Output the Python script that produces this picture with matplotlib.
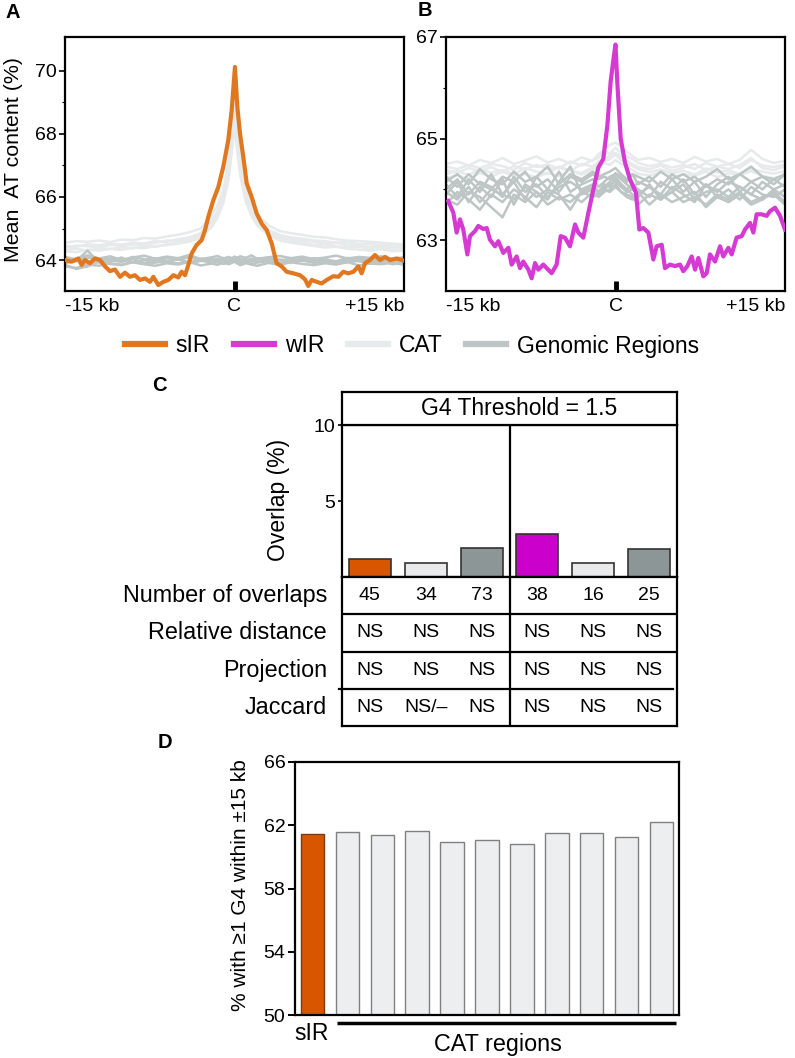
import matplotlib
matplotlib.use('Agg')
import matplotlib.pyplot as plt
from matplotlib.lines import Line2D
from matplotlib.ticker import FixedLocator

plt.rcParams['font.family'] = ['Liberation Sans', 'DejaVu Sans']

# ---------------- DATA ----------------
# Panel A: sIR mean AT content profile (kb from centre)
sIR_kb = [-15.0,-14.41,-13.82,-13.53,-13.23,-12.79,-12.35,-11.90,-11.46,-11.02,-10.58,-10.13,-9.69,-9.25,-8.81,-8.36,-7.92,-7.48,-7.18,-6.74,-6.30,-5.86,-5.41,-4.97,-4.68,-4.38,-4.09,-3.79,-3.35,-2.91,-2.61,-2.32,-1.87,-1.43,-0.99,-0.55,-0.25,0.04,0.25,0.49,0.78,1.08,1.52,1.96,2.40,2.85,3.29,3.73,4.17,4.62,5.21,5.80,6.24,6.53,6.83,7.27,7.71,8.16,8.75,9.19,9.63,10.07,10.52,10.96,11.25,11.55,11.99,12.43,12.88,13.32,13.76,14.35,15.0]
sIR_at = [64.0,63.95,64.05,63.85,64.0,63.9,64.05,64.0,63.8,63.65,63.7,63.47,63.6,63.47,63.52,63.37,63.42,63.31,63.47,63.21,63.31,63.37,63.52,63.45,63.63,63.52,63.84,64.21,64.48,64.63,64.95,65.37,65.9,66.32,66.96,67.8,68.75,70.12,68.86,68.0,67.27,66.43,66.0,65.48,65.16,64.95,64.53,63.9,63.8,63.63,63.58,63.52,63.39,63.18,63.37,63.31,63.26,63.37,63.49,63.47,63.63,63.58,63.63,63.8,63.58,63.9,64.0,64.16,64.0,64.1,64.0,64.05,63.98]

# Panel B: wIR profile
wIR_kb = [-14.8,-14.35,-14.06,-13.76,-13.47,-13.11,-12.88,-12.43,-12.14,-11.70,-11.40,-11.11,-10.66,-10.37,-9.93,-9.48,-9.19,-8.75,-8.45,-8.16,-7.71,-7.42,-7.12,-6.83,-6.39,-6.09,-5.65,-5.21,-4.85,-4.47,-4.03,-3.58,-3.29,-2.85,-2.40,-1.96,-1.52,-1.08,-0.72,-0.43,-0.13,0.0,0.16,0.46,0.84,1.28,1.81,2.11,2.46,2.91,3.35,3.64,4.09,4.38,4.82,5.27,5.71,6.00,6.36,6.74,7.04,7.33,7.77,8.07,8.36,8.81,9.25,9.54,9.99,10.28,10.72,11.17,11.46,11.90,12.20,12.49,12.94,13.38,13.67,14.12,14.56,15.0]
wIR_at = [63.77,63.54,63.15,63.41,63.21,62.72,63.08,63.18,63.28,63.22,63.24,63.01,62.88,62.98,62.75,62.85,62.52,62.68,62.45,62.58,62.42,62.25,62.55,62.42,62.52,62.45,62.35,62.52,63.08,63.05,62.88,63.31,63.15,63.05,63.54,64.0,64.43,64.6,65.26,66.12,66.65,66.85,66.1,65.0,64.53,64.2,63.94,63.21,63.24,63.15,62.62,62.88,62.91,62.45,62.52,62.49,62.52,62.39,62.49,62.68,62.42,62.65,62.29,62.35,62.72,62.58,62.88,62.68,62.85,62.72,63.05,63.08,63.21,63.34,63.15,63.51,63.51,63.48,63.57,63.64,63.48,63.21]

# Background (CAT / genomic) profiles, common positions
bg_kb = [-15,-14,-13,-12,-11,-10,-9,-8,-7,-6,-5,-4,-3,-2,-1.5,-1,-0.5,0,0.5,1,1.5,2,3,4,5,6,7,8,9,10,11,12,13,14,15]

A_cat = [
 [64.45,64.42,64.50,64.47,64.52,64.49,64.55,64.53,64.60,64.58,64.66,64.72,64.85,65.25,65.55,66.0,66.9,68.8,67.0,66.1,65.6,65.3,64.95,64.80,64.72,64.68,64.62,64.60,64.55,64.57,64.50,64.52,64.46,64.48,64.44],
 [64.32,64.36,64.30,64.38,64.35,64.40,64.37,64.45,64.42,64.50,64.55,64.60,64.75,65.10,65.40,65.85,66.7,68.4,66.8,65.9,65.45,65.15,64.85,64.68,64.60,64.55,64.48,64.50,64.44,64.40,64.42,64.36,64.38,64.33,64.35],
 [64.55,64.60,64.58,64.62,64.57,64.65,64.63,64.70,64.68,64.75,64.80,64.88,65.0,65.40,65.75,66.2,67.2,69.1,67.3,66.3,65.8,65.45,65.1,64.92,64.85,64.80,64.74,64.72,64.66,64.62,64.60,64.58,64.55,64.52,64.50],
 [64.40,64.46,64.44,64.40,64.48,64.45,64.50,64.48,64.55,64.62,64.60,64.68,64.80,65.18,65.48,65.95,66.8,68.6,66.9,66.0,65.5,65.2,64.90,64.75,64.68,64.62,64.58,64.52,64.55,64.48,64.45,64.42,64.46,64.40,64.43],
 [64.28,64.25,64.33,64.30,64.36,64.32,64.40,64.38,64.44,64.48,64.52,64.58,64.70,65.05,65.35,65.8,66.6,68.2,66.7,65.85,65.4,65.1,64.80,64.62,64.55,64.50,64.45,64.40,64.42,64.36,64.33,64.30,64.34,64.28,64.30],
]
A_gen = [
 [63.95,64.05,63.90,64.02,63.97,64.08,63.93,64.00,64.06,63.96,64.03,63.92,64.05,63.98,64.04,63.95,64.01,64.07,63.99,64.03,63.94,64.06,63.97,64.02,63.93,64.05,63.99,64.04,63.92,64.01,64.06,63.96,64.03,63.98,64.02],
 [63.85,63.72,63.80,63.95,63.88,63.84,63.93,63.87,63.82,63.90,63.86,63.94,63.83,63.89,63.85,63.92,63.87,63.95,63.84,63.90,63.86,63.82,63.91,63.85,63.93,63.88,63.84,63.90,63.86,63.94,63.83,63.89,63.87,63.92,63.85],
 [64.10,64.02,64.15,64.05,64.12,64.00,64.08,64.14,64.04,64.11,64.06,64.16,64.03,64.09,64.13,64.05,64.10,64.02,64.12,64.07,64.15,64.04,64.09,64.13,64.06,64.11,64.03,64.08,64.14,64.05,64.10,64.07,64.12,64.04,64.09],
 [63.90,63.98,64.30,63.92,64.00,63.94,64.04,63.91,63.99,63.95,64.03,63.90,63.97,64.02,63.93,63.99,63.95,64.05,63.92,63.98,64.02,63.94,64.00,63.91,63.97,64.03,63.95,63.99,63.93,64.04,63.96,63.91,63.98,64.01,63.94],
 [63.80,63.75,63.86,63.82,63.90,63.85,63.95,63.88,63.92,63.97,63.89,63.94,63.99,63.91,63.96,63.88,63.93,63.98,63.90,63.95,63.87,63.92,63.97,63.89,63.94,63.99,63.91,63.96,63.88,63.93,63.98,63.90,63.95,63.87,63.92],
 [64.02,63.96,64.08,64.00,64.05,63.98,64.10,64.03,63.97,64.06,64.01,64.09,63.99,64.04,63.98,64.07,64.00,64.11,64.03,63.97,64.05,64.01,64.08,63.99,64.04,63.98,64.06,64.02,63.96,64.07,64.00,64.05,64.01,63.97,64.03],
]
B_cat = [
 [64.45,64.40,64.48,64.42,64.50,64.46,64.38,64.52,64.44,64.49,64.41,64.55,64.47,64.58,64.62,64.75,64.70,64.82,64.72,64.65,64.60,64.52,64.46,64.50,64.43,64.48,64.40,64.52,64.45,64.50,64.42,64.58,64.47,64.44,64.49],
 [64.30,64.36,64.28,64.40,64.33,64.38,64.30,64.42,64.35,64.30,64.45,64.37,64.32,64.44,64.50,64.55,64.60,64.68,64.58,64.52,64.46,64.40,64.34,64.39,64.31,64.37,64.29,64.41,64.33,64.38,64.30,64.40,64.35,64.31,64.36],
 [64.50,64.55,64.47,64.58,64.52,64.62,64.50,64.57,64.65,64.53,64.60,64.51,64.63,64.56,64.70,64.78,64.88,64.92,64.85,64.74,64.66,64.58,64.62,64.54,64.60,64.52,64.64,64.55,64.60,64.50,64.58,64.78,64.60,64.52,64.56],
 [64.22,64.28,64.20,64.32,64.25,64.35,64.27,64.30,64.24,64.33,64.26,64.38,64.29,64.40,64.45,64.52,64.48,64.58,64.50,64.44,64.38,64.31,64.27,64.34,64.23,64.30,64.26,64.35,64.24,64.32,64.28,64.36,64.27,64.22,64.29],
 [64.38,64.33,64.42,64.36,64.44,64.34,64.46,64.39,64.48,64.40,64.43,64.36,64.50,64.45,64.55,64.60,64.66,64.72,64.65,64.57,64.50,64.44,64.40,64.47,64.36,64.43,64.50,64.38,64.45,64.40,64.48,64.62,64.42,64.38,64.45],
]
B_gen = [
 [64.10,63.85,64.20,63.95,64.30,63.90,64.15,63.80,64.25,64.00,64.35,63.95,64.10,64.20,64.05,64.15,64.25,64.30,64.20,64.10,64.00,64.15,64.05,63.90,64.20,63.95,64.15,63.85,64.10,64.25,63.95,64.15,64.00,64.20,64.05],
 [63.90,64.15,63.75,64.05,63.85,64.20,63.70,64.10,63.95,63.80,64.15,64.45,63.90,64.00,63.95,64.10,64.05,64.20,64.10,64.00,63.90,63.85,64.10,63.80,64.05,63.90,63.75,64.10,63.85,64.00,63.80,64.05,63.90,63.85,64.00],
 [64.25,64.05,64.30,64.10,64.00,64.25,64.15,64.35,64.05,64.20,63.95,64.25,64.15,64.30,64.20,64.25,64.20,64.32,64.25,64.15,64.30,64.10,64.25,64.05,64.30,64.15,64.25,64.05,64.20,64.10,64.30,64.15,64.25,64.10,64.30],
 [63.70,63.95,63.80,63.60,63.90,63.75,64.00,63.85,63.65,63.95,63.80,63.90,63.75,63.95,63.85,63.95,64.00,64.10,63.95,63.90,63.85,63.70,63.90,63.80,63.95,63.75,63.85,63.70,63.90,63.80,63.95,63.75,63.85,63.90,63.70],
 [64.00,64.20,63.90,64.15,64.05,63.85,64.25,63.95,64.10,63.85,64.05,64.15,64.00,64.10,63.95,64.05,64.15,64.25,64.10,64.00,64.10,64.00,63.85,64.15,64.00,64.20,63.90,64.10,63.95,64.15,64.05,63.90,64.15,64.00,64.10],
 [63.80,63.70,63.95,63.85,63.65,63.45,63.90,63.75,63.95,63.70,63.85,63.75,63.95,63.85,63.90,64.00,63.95,64.05,63.95,63.85,63.80,63.95,63.70,63.90,63.75,63.85,63.95,63.65,63.85,63.75,63.90,63.70,63.80,63.95,63.75],
 [64.15,64.30,64.10,64.40,64.20,64.10,64.35,64.15,64.25,64.45,64.10,64.30,64.20,64.35,64.25,64.30,64.35,64.42,64.30,64.20,64.30,64.25,64.15,64.35,64.20,64.30,64.15,64.25,64.40,64.20,64.30,64.45,64.25,64.20,64.30],
 [63.95,63.80,64.05,63.75,64.00,63.90,63.80,64.05,63.85,64.00,63.90,63.60,63.95,64.05,63.90,64.00,64.10,64.15,64.05,63.95,64.00,63.90,64.05,63.85,63.95,64.10,63.80,63.95,64.00,63.85,64.05,63.90,63.80,64.00,63.85],
]

x_tick_pos = [-15, 0, 15]
x_tick_lab = ['-15 kb', 'C', '+15 kb']
legend_labels = ['sIR', 'wIR', 'CAT', 'Genomic Regions']

# Panel C
c_groups = ['sIR', 'CAT', 'Genomic', 'wIR', 'CAT', 'Genomic']
c_overlap = [1.2, 0.95, 1.9, 2.8, 0.95, 1.85]
row_labels = ['Number of overlaps', 'Relative distance', 'Projection', 'Jaccard']
row_number = ['45', '34', '73', '38', '16', '25']
row_reldist = ['NS', 'NS', 'NS', 'NS', 'NS', 'NS']
row_projection = ['NS', 'NS', 'NS', 'NS', 'NS', 'NS']
row_jaccard = ['NS', 'NS/\u2013', 'NS', 'NS', 'NS', 'NS']
c_header = 'G4 Threshold = 1.5'

# Panel D
d_labels = ['sIR'] + ['CAT'] * 10
d_pct = [61.46, 61.6, 61.4, 61.66, 60.93, 61.08, 60.8, 61.54, 61.54, 61.27, 62.2]

# ---------------- STYLE ----------------
SIR_LINE = '#E17820'
WIR_LINE = '#D53AD2'
CAT_LINE = '#E6EAEA'
GEN_LINE = '#BDC6C4'
SIR_BAR = '#D95600'
WIR_BAR = '#CC00CC'
CAT_BAR = '#E8EAEB'
GEN_BAR = '#8C9696'
bar_colors = {'sIR': SIR_BAR, 'wIR': WIR_BAR, 'CAT': CAT_BAR, 'Genomic': GEN_BAR}

W, H = 795, 1058
fig = plt.figure(figsize=(W / 100, H / 100), dpi=100)


def box(l, t, r, b):
    return [l / W, 1 - b / H, (r - l) / W, (b - t) / H]


def px(x, y):
    return (x / W, 1 - y / H)


SP = 1.6
TICKFS = 14


def style_profile(ax, ylim, majors, minors):
    ax.set_xlim(-15, 15)
    ax.set_ylim(*ylim)
    ax.set_yticks(majors)
    ax.yaxis.set_minor_locator(FixedLocator(minors))
    ax.set_xticks(x_tick_pos)
    ax.set_xticklabels(x_tick_lab)
    ax.tick_params(axis='y', which='major', direction='out', length=4, width=1.2,
                   labelsize=TICKFS, pad=2)
    ax.tick_params(axis='y', which='minor', direction='out', length=2.5, width=0.8)
    ax.tick_params(axis='x', which='major', direction='in', length=7, width=3.5,
                   labelsize=TICKFS, pad=5)
    ticks = ax.xaxis.get_major_ticks()
    for i in (0, 2):
        ticks[i].tick1line.set_visible(False)
    labs = ax.get_xticklabels()
    labs[0].set_horizontalalignment('left')
    labs[2].set_horizontalalignment('right')
    for s in ax.spines.values():
        s.set_linewidth(SP)


# Panel A
axA = fig.add_axes(box(65, 37, 404, 291))
for ln in A_cat:
    axA.plot(bg_kb, ln, color=CAT_LINE, lw=1.8, zorder=1)
for ln in A_gen:
    axA.plot(bg_kb, ln, color=GEN_LINE, lw=1.8, zorder=2)
axA.plot(sIR_kb, sIR_at, color=SIR_LINE, lw=3, zorder=3)
style_profile(axA, (63.02, 71.07), [64, 66, 68, 70], [65, 67, 69])
fig.text(*px(14, 159), 'Mean  AT content (%)', rotation=90, ha='center', va='center', fontsize=15.4)

# Panel B
axB = fig.add_axes(box(446, 37, 785, 291))
for ln in B_cat:
    axB.plot(bg_kb, ln, color=CAT_LINE, lw=1.8, zorder=1)
for ln in B_gen:
    axB.plot(bg_kb, ln, color=GEN_LINE, lw=1.8, zorder=2)
axB.plot(wIR_kb, wIR_at, color=WIR_LINE, lw=3, zorder=3)
style_profile(axB, (62.0, 67.0), [63, 65, 67], [64, 66])

# Legend
handles = [Line2D([], [], color=c, lw=4.5) for c in (SIR_LINE, WIR_LINE, CAT_LINE, GEN_LINE)]
fig.legend(handles, legend_labels, loc='center', bbox_to_anchor=px(412, 346), ncol=4,
           frameon=False, fontsize=16.5, handlelength=1.75, handletextpad=0.45,
           columnspacing=1.05)

# Panel C: bars
axC = fig.add_axes(box(342, 425, 677, 577))
c_pos = list(range(1, len(c_overlap) + 1))
axC.bar(c_pos, c_overlap, width=0.75, color=[bar_colors[g] for g in c_groups],
        edgecolor='#333333', linewidth=1.2, zorder=2)
axC.set_xlim(0.5, 6.5)
axC.set_ylim(0, 10)
axC.set_yticks([5, 10])
axC.set_xticks([])
axC.tick_params(axis='y', direction='out', length=3, width=1.2, labelsize=TICKFS, pad=2)
axC.axvline(3.5, color='black', lw=SP, zorder=3)
for s in axC.spines.values():
    s.set_linewidth(SP)
fig.text(*px(278, 500), 'Overlap (%)', rotation=90, ha='center', va='center', fontsize=16.5)

# Panel C header
axH = fig.add_axes(box(342, 392, 677, 425))
axH.set_xticks([])
axH.set_yticks([])
for s in axH.spines.values():
    s.set_linewidth(SP)
axH.text((519 - 342) / 335, 0.5, c_header, ha='center', va='center', fontsize=16.5,
         transform=axH.transAxes)

# Panel C table
axT = fig.add_axes(box(342, 577, 677, 726))
axT.set_xlim(0.5, 6.5)
axT.set_ylim(4, 0)
axT.set_xticks([])
axT.set_yticks([])
for s in axT.spines.values():
    s.set_linewidth(SP)
axT.axhline(1, color='black', lw=SP)
axT.axhline(2, color='black', lw=SP)
axT.plot([0.45, 3.47], [3, 3], color='black', lw=SP, clip_on=False)
axT.plot([3.53, 6.42], [3, 3], color='black', lw=SP, clip_on=False)
axT.axvline(3.5, color='black', lw=SP)
rows = [row_number, row_reldist, row_projection, row_jaccard]
for r, (lab, vals) in enumerate(zip(row_labels, rows)):
    yc = r + 0.5
    axT.text(-15 / 335, yc, lab, ha='right', va='center', fontsize=16.8,
             transform=axT.get_yaxis_transform())
    for i, v in enumerate(vals):
        axT.text(c_pos[i], yc, v, ha='center', va='center', fontsize=14)

# Panel D
axD = fig.add_axes(box(295, 762, 679, 1015))
d_pos = list(range(len(d_pct)))
d_cols = [SIR_BAR if l == 'sIR' else '#ECEEEF' for l in d_labels]
d_edges = ['#7A3A12' if l == 'sIR' else '#808080' for l in d_labels]
axD.bar(d_pos, [v - 50 for v in d_pct], bottom=50, width=0.67, color=d_cols,
        edgecolor=d_edges, linewidth=1.0, zorder=2)
axD.set_xlim(-0.5, 10.5)
axD.set_ylim(50, 66)
axD.set_yticks([50, 54, 58, 62, 66])
axD.set_xticks([])
axD.tick_params(axis='y', direction='out', length=5, width=1.4, labelsize=TICKFS, pad=2)
for s in axD.spines.values():
    s.set_linewidth(SP)
fig.text(*px(240, 885), '% with \u22651 G4 within \u00b115 kb', rotation=90, ha='center',
         va='center', fontsize=15)
fig.text(*px(312, 1034), 'sIR', ha='center', va='center', fontsize=16.5)
axD.plot([0.7, 10.4], [-0.032, -0.032], color='black', lw=2.5, clip_on=False,
         transform=axD.get_xaxis_transform(), solid_capstyle='butt')
fig.text(*px(498, 1045), 'CAT regions', ha='center', va='center', fontsize=16.8)

# Panel letters
for lab, (x, y) in zip('ABCD', [(13, 13), (425, 11), (159, 386), (165, 743)]):
    fig.text(*px(x, y), lab, ha='center', va='center', fontsize=14.5, fontweight='bold')

fig.savefig('out.png', dpi=100)
